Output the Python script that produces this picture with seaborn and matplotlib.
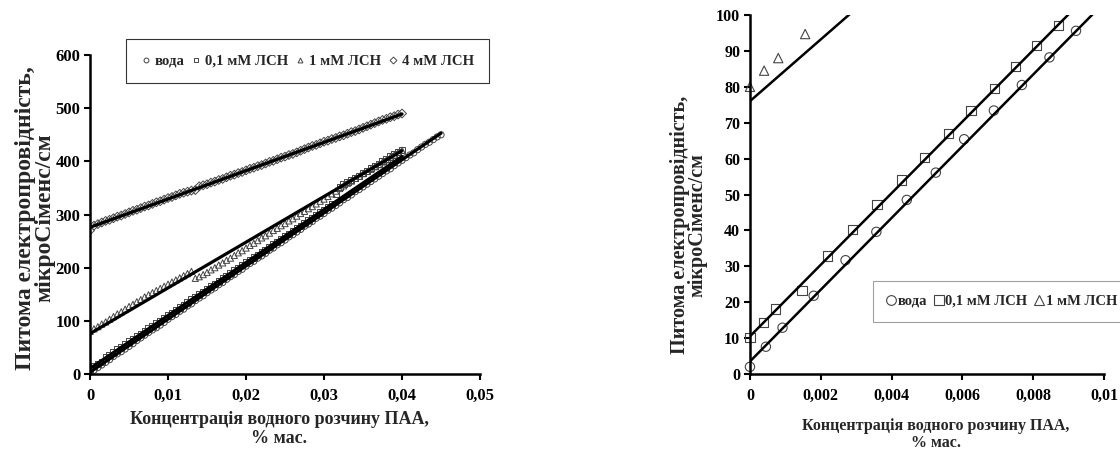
import numpy as np
import matplotlib
matplotlib.use("Agg")
import matplotlib.pyplot as plt
import seaborn as sns

sns.set_theme(style="white")
plt.rcParams['font.family'] = ['Liberation Serif', 'DejaVu Serif']
plt.rcParams['font.weight'] = 'bold'
plt.rcParams['axes.labelweight'] = 'bold'

# -------------------
# Data: full range (left panel)
# -------------------
conc_left = [0.0000, 0.0005, 0.0010, 0.0015, 0.0020, 0.0025, 0.0030, 0.0035, 0.0040, 0.0045,
             0.0050, 0.0055, 0.0060, 0.0065, 0.0070, 0.0075, 0.0080, 0.0085, 0.0090, 0.0095,
             0.0100, 0.0105, 0.0110, 0.0115, 0.0120, 0.0125, 0.0130, 0.0135, 0.0140, 0.0145,
             0.0150, 0.0155, 0.0160, 0.0165, 0.0170, 0.0175, 0.0180, 0.0185, 0.0190, 0.0195,
             0.0200, 0.0205, 0.0210, 0.0215, 0.0220, 0.0225, 0.0230, 0.0235, 0.0240, 0.0245,
             0.0250, 0.0255, 0.0260, 0.0265, 0.0270, 0.0275, 0.0280, 0.0285, 0.0290, 0.0295,
             0.0300, 0.0305, 0.0310, 0.0315, 0.0320, 0.0325, 0.0330, 0.0335, 0.0340, 0.0345,
             0.0350, 0.0355, 0.0360, 0.0365, 0.0370, 0.0375, 0.0380, 0.0385, 0.0390, 0.0395,
             0.0400, 0.0405, 0.0410, 0.0415, 0.0420, 0.0425, 0.0430, 0.0435, 0.0440, 0.0445,
             0.0450]

water_left = [2, 7, 12, 17, 22, 27, 33, 38, 42, 47,
              52, 57, 63, 68, 73, 78, 83, 87, 92, 97,
              103, 108, 112, 118, 122, 128, 132, 138, 143, 147,
              153, 158, 162, 168, 172, 178, 183, 187, 193, 197,
              203, 208, 212, 218, 222, 227, 233, 237, 243, 247,
              252, 258, 262, 267, 272, 278, 282, 287, 293, 297,
              302, 308, 312, 317, 322, 328, 332, 337, 343, 347,
              352, 357, 362, 367, 372, 377, 382, 386, 392, 397,
              402, 407, 412, 416, 422, 427, 432, 436, 441, 446,
              450]

lsn01_left = [10, 15, 19, 23, 31, 36, 41, 46, 51, 56,
              61, 66, 72, 76, 81, 86, 91, 95, 100, 105,
              110, 115, 120, 125, 130, 135, 140, 145, 150, 155,
              160, 165, 170, 175, 180, 185, 190, 195, 200, 205,
              210, 215, 219, 224, 229, 234, 239, 244, 249, 254,
              259, 264, 269, 274, 279, 284, 289, 294, 299, 304,
              309, 314, 320, 338, 352, 357, 361, 365, 369, 373,
              378, 382, 387, 391, 395, 400, 404, 409, 413, 418,
              422]

lsn1_left = [80, 85, 89, 94, 98, 103, 108, 113, 117, 122,
             127, 131, 136, 140, 145, 149, 153, 157, 161, 165,
             169, 173, 177, 181, 185, 189, 193, 180, 183, 187,
             191, 196, 200, 205, 209, 214, 218, 223, 228, 232,
             237, 242, 246, 251, 256, 260, 265, 270, 274, 279,
             283, 288, 292, 297, 302, 306, 311, 315, 320, 325,
             329, 334, 339, 344, 349, 354, 359, 363, 368, 372,
             377, 381, 385, 390, 394, 399, 403, 408, 412, 417,
             421]

lsn4_left = [270, 279, 282, 285, 288, 290, 293, 296, 298, 301,
             304, 307, 309, 312, 315, 317, 320, 323, 325, 328,
             331, 333, 336, 339, 341, 343, 345, 346, 353, 355,
             357, 360, 362, 365, 367, 370, 373, 375, 378, 380,
             383, 386, 388, 391, 393, 396, 399, 401, 404, 407,
             409, 412, 414, 417, 420, 423, 426, 429, 431, 434,
             437, 439, 442, 444, 447, 449, 452, 455, 457, 460,
             463, 466, 469, 472, 475, 478, 480, 483, 485, 488,
             490]

# -------------------
# Data: low concentration zoom (right panel)
# -------------------
water_x = [0.0000, 0.00045, 0.00092, 0.0018, 0.0027, 0.00357, 0.00443, 0.00525,
           0.00605, 0.00689, 0.00768, 0.00846, 0.00921]
water_y = [2.0, 7.6, 12.9, 21.8, 31.7, 39.6, 48.5, 56.1, 65.4, 73.4, 80.5, 88.2, 95.6]

lsn01_x = [0.0000, 0.00038, 0.00073, 0.00147, 0.0022, 0.0029, 0.00359, 0.00429,
           0.00493, 0.0056, 0.00624, 0.0069, 0.00751, 0.0081, 0.00872]
lsn01_y = [10.1, 14.4, 18.1, 23.2, 32.9, 40.3, 47.2, 54.0, 60.3, 67.0, 73.4, 79.6,
           85.6, 91.6, 97.0]

lsn1_x = [0.0000, 0.0004, 0.0008, 0.00156]
lsn1_y = [80.0, 84.5, 88.0, 94.7]

# linear trendlines (intercept, slope)
fit_intercept = {'вода': 3.5, '0,1 мМ ЛСН': 10.5, '1 мМ ЛСН': 76.0, '4 мМ ЛСН': 276.0}
fit_slope = {'вода': 9990, '0,1 мМ ЛСН': 9966, '1 мМ ЛСН': 8600, '4 мМ ЛСН': 5330}

labels = ['вода', '0,1 мМ ЛСН', '1 мМ ЛСН', '4 мМ ЛСН']
markers = ['o', 's', '^', 'D']

left_xticks = [0, 0.01, 0.02, 0.03, 0.04, 0.05]
left_xticklabels = ['0', '0,01', '0,02', '0,03', '0,04', '0,05']
left_yticks = [0, 100, 200, 300, 400, 500, 600]
right_xticks = [0, 0.002, 0.004, 0.006, 0.008, 0.01]
right_xticklabels = ['0', '0,002', '0,004', '0,006', '0,008', '0,01']
right_yticks = [0, 10, 20, 30, 40, 50, 60, 70, 80, 90, 100]

xlabel = 'Концентрація водного розчину ПАА,\n% мас.'
ylabel = 'Питома електропровідність,\nмікроСіменс/см'

left_series = [
    (conc_left, water_left),
    (conc_left[:len(lsn01_left)], lsn01_left),
    (conc_left[:len(lsn1_left)], lsn1_left),
    (conc_left[:len(lsn4_left)], lsn4_left),
]
right_series = [(water_x, water_y), (lsn01_x, lsn01_y), (lsn1_x, lsn1_y)]

# -------------------
# Figure
# -------------------
fig = plt.figure(figsize=(11.2, 4.55), dpi=100)
ax1 = fig.add_axes([0.0804, 0.178, 0.3482, 0.701])
ax2 = fig.add_axes([0.6696, 0.178, 0.3161, 0.789])

edge = '#444444'


def style_axes(ax, tick_size):
    for side in ['top', 'right']:
        ax.spines[side].set_visible(False)
    for side in ['left', 'bottom']:
        ax.spines[side].set_color('black')
        ax.spines[side].set_linewidth(1.8)
    ax.tick_params(axis='both', direction='out', length=4, width=1.5,
                   colors='black', labelsize=tick_size, pad=3,
                   left=True, bottom=True)
    ax.tick_params(axis='x', pad=6)
    ax.grid(False)


# Left panel: full range
handles = []
for (xs, ys), lab, m in zip(left_series, labels, markers):
    sns.scatterplot(x=xs, y=ys, ax=ax1, marker=m, s=20, facecolor='none',
                    edgecolor=edge, linewidth=0.7, zorder=2)
    handles.append(plt.Line2D([], [], ls='none', marker=m, markersize=3.5,
                              markerfacecolor='none', markeredgecolor=edge,
                              markeredgewidth=0.7))
for (xs, ys), lab in zip(left_series, labels):
    line_x = [0, max(xs)]
    line_y = [fit_intercept[lab] + fit_slope[lab] * v for v in line_x]
    sns.lineplot(x=line_x, y=line_y, ax=ax1, color='black', linewidth=2.3, zorder=3)

ax1.set_xlim(0, 0.05)
ax1.set_ylim(0, 600)
ax1.set_xticks(left_xticks)
ax1.set_xticklabels(left_xticklabels)
ax1.set_yticks(left_yticks)
style_axes(ax1, 12)
ax1.set_xlabel(xlabel, fontsize=13, linespacing=1.15)
ax1.xaxis.set_label_coords(0.485, -0.115)
ax1.set_ylabel(ylabel, fontsize=17, linespacing=0.9)
ax1.yaxis.set_label_coords(-0.088, 0.49)
leg1 = ax1.legend(handles, labels, loc='upper left', bbox_to_anchor=(0.092, 1.05),
                  ncol=4, frameon=True, fancybox=False, borderaxespad=0,
                  prop={'size': 10.6, 'weight': 'bold'}, handlelength=0.6,
                  handletextpad=0.3, columnspacing=0.5, borderpad=1.05)
leg1.get_frame().set_edgecolor('black')
leg1.get_frame().set_linewidth(0.8)

# Right panel: low concentration zoom
handles2 = []
for (xs, ys), lab, m in zip(right_series, labels, markers):
    sns.scatterplot(x=xs, y=ys, ax=ax2, marker=m, s=45, facecolor='none',
                    edgecolor=edge, linewidth=0.8, zorder=2, clip_on=False)
    handles2.append(plt.Line2D([], [], ls='none', marker=m, markersize=7,
                               markerfacecolor='none', markeredgecolor=edge,
                               markeredgewidth=0.8))
for lab in labels[:3]:
    line_x = [0, 0.01]
    line_y = [fit_intercept[lab] + fit_slope[lab] * v for v in line_x]
    sns.lineplot(x=line_x, y=line_y, ax=ax2, color='black', linewidth=1.8, zorder=3)

ax2.set_xlim(0, 0.01)
ax2.set_ylim(0, 100)
ax2.set_xticks(right_xticks)
ax2.set_xticklabels(right_xticklabels)
ax2.set_yticks(right_yticks)
style_axes(ax2, 11.5)
ax2.set_xlabel(xlabel, fontsize=11.5, linespacing=1.1)
ax2.xaxis.set_label_coords(0.525, -0.122)
ax2.set_ylabel(ylabel, fontsize=14.5, linespacing=0.85)
ax2.yaxis.set_label_coords(-0.12, 0.415)
leg2 = ax2.legend(handles2, labels[:3], loc='upper left', bbox_to_anchor=(0.347, 0.26),
                  ncol=3, frameon=True, fancybox=False, borderaxespad=0,
                  prop={'size': 10.5, 'weight': 'bold'}, handlelength=0.6,
                  handletextpad=0.15, columnspacing=0.5, borderpad=0.95)
leg2.get_frame().set_edgecolor('#888888')
leg2.get_frame().set_linewidth(0.8)

fig.savefig('out.png', dpi=100)
